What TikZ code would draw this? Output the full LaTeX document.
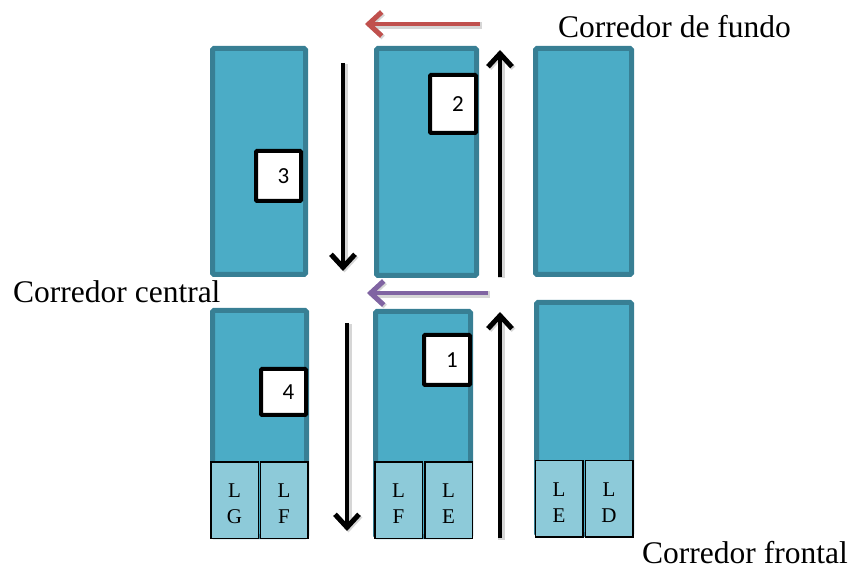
\documentclass[tikz,border=0pt]{standalone}
\usepackage{fontspec}
\setmainfont{Liberation Serif}
\newfontfamily\digitfont{Carlito}
\usetikzlibrary{arrows.meta}

\definecolor{rackfill}{HTML}{4BACC6}
\definecolor{rackedge}{HTML}{387F94}
\definecolor{binfill}{HTML}{8DCAD9}
\definecolor{flowred}{HTML}{C0504D}
\definecolor{flowpurple}{HTML}{8064A2}

\begin{document}
\begin{tikzpicture}[x=1pt,y=-1pt,
  rack/.style={draw=rackedge, fill=rackfill, line width=5pt, rounded corners=1.5pt,
    inner sep=0pt, rectangle},
  bin/.style={draw=black, fill=binfill, line width=1.5pt, inner sep=0pt,
    minimum width=47.5pt, minimum height=76.5pt},
  binlabel/.style={inner sep=0pt, align=center, yshift=-4pt,
    font=\fontsize{21}{26}\selectfont},
  tag/.style={draw=black, fill=white, line width=4pt, rounded corners=1pt,
    inner sep=0pt, font=\digitfont\fontsize{23}{23}\selectfont},
  aisle/.style={font=\fontsize{31.5}{36}\selectfont, inner sep=0pt, anchor=base west},
  flow/.style={line width=4.5pt, line join=miter,
    -{Straight Barb[length=13pt,width=24pt,line width=5pt]},
    preaction={draw=black!16, line width=7pt,
      transform canvas={shift={(1.5pt,-1.5pt)}}}}
]
\useasboundingbox (0,0) rectangle (852,569);

% shelving racks, back row
\node[rack, minimum width=93pt, minimum height=226pt] (rTL) at (259,161.5) {};
\node[rack, minimum width=100pt, minimum height=227pt] (rTM) at (426.5,162) {};
\node[rack, minimum width=96pt, minimum height=226pt] (rTR) at (583.5,161.5) {};

% shelving racks, front row
\node[rack, minimum width=94pt, minimum height=226pt] (rBL) at (259.5,423.5) {};
\node[rack, minimum width=95pt, minimum height=225pt] (rBM) at (423,424) {};
\node[rack, minimum width=95pt, minimum height=232pt] (rBR) at (584,418.5) {};

% bins at the foot of the front racks
\node[bin] (bLG) at (234.5,500) {};
\node[bin] (bLF1) at (284,500) {};
\node[bin] (bLF2) at (398.5,500) {};
\node[bin] (bLE1) at (448.5,500) {};
\node[bin] (bLE2) at (559,498.5) {};
\node[bin] (bLD) at (609,498.5) {};

\node[binlabel] (lLG) at (bLG.center) {L\\G};
\node[binlabel] (lLF1) at (bLF1.center) {L\\F};
\node[binlabel] (lLF2) at (bLF2.center) {L\\F};
\node[binlabel] (lLE1) at (bLE1.center) {L\\E};
\node[binlabel] (lLE2) at (bLE2.center) {L\\E};
\node[binlabel] (lLD) at (bLD.center) {L\\D};

% numbered picking points
\node[tag, minimum width=46pt, minimum height=58pt] (t2) at (453,104) {\hspace*{10pt}2};
\node[tag, minimum width=45pt, minimum height=50pt] (t3) at (278.5,176) {\hspace*{10pt}3};
\node[tag, minimum width=45pt, minimum height=46pt] (t4) at (283.5,392) {\hspace*{10pt}4};
\node[tag, minimum width=46pt, minimum height=50pt] (t1) at (447,360) {\hspace*{10pt}1};

% route through the aisles
\coordinate (backS) at (480,24);
\coordinate (backE) at (365,24);
\coordinate (leftTS) at (343,63);
\coordinate (leftTE) at (343,271);
\coordinate (rightTS) at (500,277);
\coordinate (rightTE) at (500,50);
\coordinate (midS) at (488,293);
\coordinate (midE) at (367,293);
\coordinate (leftBS) at (347,323);
\coordinate (leftBE) at (347,531);
\coordinate (rightBS) at (500,538);
\coordinate (rightBE) at (500,312);

\draw[flow, flowred] (backS) -- (backE);
\draw[flow, black] (leftTS) -- (leftTE);
\draw[flow, black] (rightTS) -- (rightTE);
\draw[flow, flowpurple] (midS) -- (midE);
\draw[flow, black] (leftBS) -- (leftBE);
\draw[flow, black] (rightBS) -- (rightBE);

% aisle names
\node[aisle] (back) at (558,38) {Corredor de fundo};
\node[aisle] (central) at (13,303) {Corredor central};
\node[aisle] (front) at (642,563) {Corredor frontal};
\end{tikzpicture}
\end{document}
